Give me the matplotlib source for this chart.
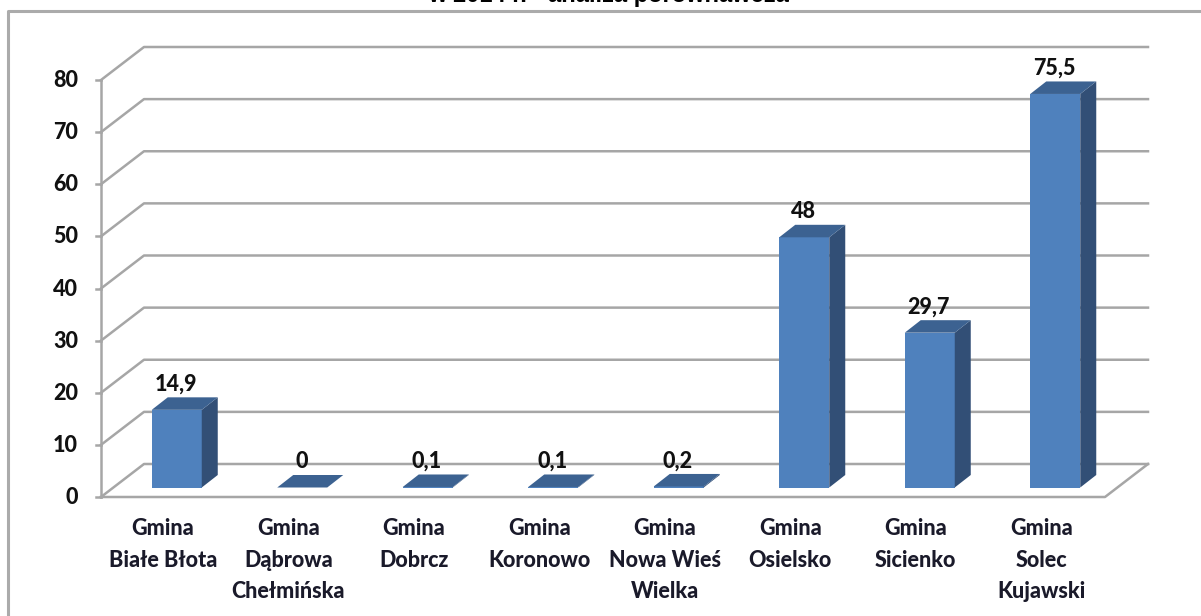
import matplotlib
matplotlib.use("Agg")
import matplotlib.pyplot as plt
from matplotlib.patches import Polygon

categories = ["Gmina\nBiałe Błota", "Gmina\nDąbrowa\nChełmińska", "Gmina\nDobrcz", "Gmina\nKoronowo",
              "Gmina\nNowa Wieś\nWielka", "Gmina\nOsielsko", "Gmina\nSicienko", "Gmina\nSolec\nKujawski"]
values = [14.9, 0, 0.1, 0.1, 0.2, 48, 29.7, 75.5]
value_labels = ["14,9", "0", "0,1", "0,1", "0,2", "48", "29,7", "75,5"]
y_ticks = [0, 10, 20, 30, 40, 50, 60, 70, 80]
title = "w 2014 r. - analiza porównawcza"

W, H = 1201, 616
plt.rcParams['font.family'] = ['Lato', 'DejaVu Sans']

# pixel scale of the front plane
x0, cat_w = 101, 125.5
y0, unit = 497, 5.2125
depth_x, depth_y = 43 / cat_w, 33 / unit   # wall depth in data units
bar_dx, bar_dy = 16 / cat_w, 12.5 / unit   # bar depth
bar_w = 50 / cat_w
bar_shift = 13 / cat_w
bar_base = 9.5 / unit

fig = plt.figure(figsize=(W / 100, H / 100), dpi=100)
ax = fig.add_axes([0, 0, 1, 1])
ax.set_xlim(-x0 / cat_w - 0.5, (W - x0) / cat_w - 0.5)
ax.set_ylim((y0 - H) / unit, y0 / unit)
ax.axis("off")

grid = "#a6a6a6"
n = len(categories)
left, right = -0.5, n - 0.5
px, py = 1 / cat_w, 1 / unit

# outer frame, only left and top are in the picture
frame_x = left - 93 * px
frame_y = (y0 - 10.5) * py
ax.plot([frame_x, frame_x, ax.get_xlim()[1]], [ax.get_ylim()[0], frame_y, frame_y], color="#ababab", lw=2.2)

for v in y_ticks:
    ax.plot([left, left + depth_x, right + depth_x], [v, v + depth_y, v + depth_y], color=grid, lw=1.8, zorder=1)
    ax.plot([left - 5 * px, left], [v, v], color=grid, lw=1.8, zorder=1)
    ax.text(left - 23 * px, v - 0.1, str(v), ha="right", va="center", fontsize=15.5, fontweight="black", color="#111111")
ax.plot([left, left], [0, 80], color=grid, lw=1.8, zorder=1)
ax.plot([left, right, right + depth_x], [0, 0, depth_y], color=grid, lw=1.8, zorder=1)

for i, v in enumerate(values):
    xl = i - bar_w / 2 + bar_shift
    xr = xl + bar_w
    yb = bar_base
    yt = yb + v
    ax.add_patch(Polygon([(xl, yb), (xr, yb), (xr, yt), (xl, yt)], fc="#4f81bd", ec="none", zorder=3))
    ax.add_patch(Polygon([(xr, yb), (xr + bar_dx, yb + bar_dy), (xr + bar_dx, yt + bar_dy), (xr, yt)],
                         fc="#324f76", ec="none", zorder=3))
    ax.add_patch(Polygon([(xl, yt), (xr, yt), (xr + bar_dx, yt + bar_dy), (xl + bar_dx, yt + bar_dy)],
                         fc="#3c6291", ec="none", zorder=3))
    ax.text(xl + bar_w / 2 - 1 * px, yt + bar_dy + 0.5, value_labels[i], ha="center", va="bottom",
            fontsize=15.5, fontweight="black", color="#111111", zorder=4)
    ax.text(i - 1 * px, -4.1, categories[i], ha="center", va="top", fontsize=15.5, fontweight="black",
            color="#1a1a2a", linespacing=1.6)

ax.text(608 * px + ax.get_xlim()[0], (y0 - 2) * py, title, ha="center", va="baseline",
        fontsize=17, fontweight="bold", family="Liberation Sans", color="black")

fig.savefig("out.png", dpi=100)
